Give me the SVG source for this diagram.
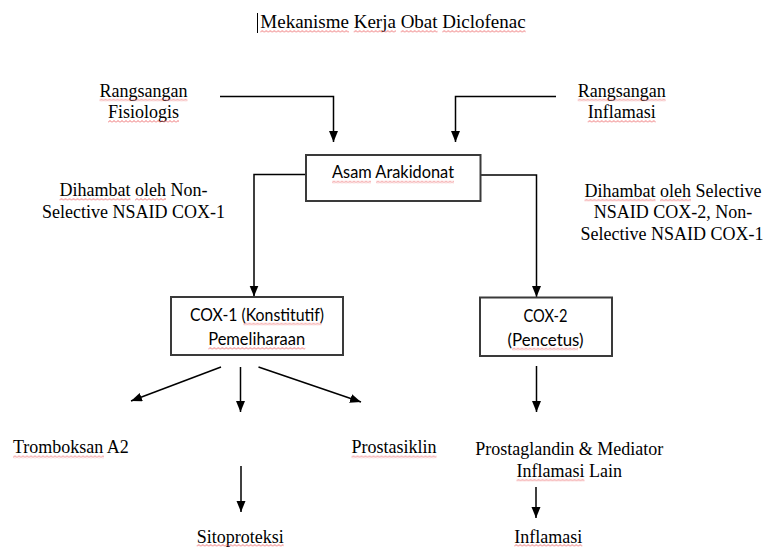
<svg xmlns="http://www.w3.org/2000/svg" width="764" height="547" viewBox="0 0 764 547">
  <style>
    .serif { font-family: "Liberation Serif", "Times New Roman", serif; font-size: 18px; fill: #000; }
    .title { font-size: 19px; }
    .sans { font-family: Lato, "Liberation Sans", sans-serif; font-size: 17px; fill: #000; }
    .box { fill: #fff; stroke: #3a3a3a; stroke-width: 2; }
    .conn { fill: none; stroke: #000; stroke-width: 1.5; }
    .sq { fill: url(#wavy); }
  </style>
  <defs>
    <marker id="arrow" markerUnits="userSpaceOnUse" markerWidth="12" markerHeight="10" refX="11" refY="4.5" orient="auto">
      <path d="M0,0 L11,4.5 L0,9 z" fill="#000"/>
    </marker>
    <pattern id="wavy" patternUnits="userSpaceOnUse" width="4" height="3">
      <path d="M0,2.5 L2,0.5 L4,2.5" fill="none" stroke="#e8474a" stroke-width="0.8"/>
    </pattern>
  </defs>
  <rect width="764" height="547" fill="#fff"/>

  <g id="title">
    <line x1="257.5" y1="13" x2="257.5" y2="33" stroke="#000" stroke-width="1"/>
    <text class="serif title" x="393" y="28" text-anchor="middle">Mekanisme Kerja Obat Diclofenac</text>
  </g>

  <g id="connectors">
    <path class="conn" d="M220,96.5 H333.5 V142" marker-end="url(#arrow)"/>
    <path class="conn" d="M556,96.5 H455.5 V142" marker-end="url(#arrow)"/>
    <path class="conn" d="M306,174.5 H254 V296.5" marker-end="url(#arrow)"/>
    <path class="conn" d="M480.5,175 H536.5 V297" marker-end="url(#arrow)"/>
    <path class="conn" d="M221,367 L131,401" marker-end="url(#arrow)"/>
    <path class="conn" d="M240.5,367 V412" marker-end="url(#arrow)"/>
    <path class="conn" d="M258.5,367 L361,402" marker-end="url(#arrow)"/>
    <path class="conn" d="M536.5,366 V412" marker-end="url(#arrow)"/>
    <path class="conn" d="M241,466 V512" marker-end="url(#arrow)"/>
    <path class="conn" d="M536,487 V518" marker-end="url(#arrow)"/>
  </g>

  <g id="rangsangan-fisiologis">
    <text class="serif" x="143.5" y="96.5" text-anchor="middle">Rangsangan</text>
    <text class="serif" x="143.5" y="118" text-anchor="middle">Fisiologis</text>
  </g>
  <g id="rangsangan-inflamasi">
    <text class="serif" x="621.7" y="96.5" text-anchor="middle">Rangsangan</text>
    <text class="serif" x="621.7" y="118" text-anchor="middle">Inflamasi</text>
  </g>

  <g id="asam-arakidonat">
    <rect class="box" x="306" y="155" width="174.5" height="46"/>
    <text class="sans" x="393" y="177.5" text-anchor="middle" textLength="122" lengthAdjust="spacingAndGlyphs">Asam Arakidonat</text>
  </g>

  <g id="label-cox1-inhibitor">
    <text class="serif" x="133.5" y="196" text-anchor="middle">Dihambat oleh Non-</text>
    <text class="serif" x="133.5" y="217.5" text-anchor="middle">Selective NSAID COX-1</text>
  </g>
  <g id="label-cox2-inhibitor">
    <text class="serif" x="673" y="196.7" text-anchor="middle">Dihambat oleh Selective</text>
    <text class="serif" x="673" y="218" text-anchor="middle">NSAID COX-2, Non-</text>
    <text class="serif" x="672" y="239.5" text-anchor="middle">Selective NSAID COX-1</text>
  </g>

  <g id="cox1">
    <rect class="box" x="171" y="297" width="172" height="58"/>
    <text class="sans" x="257" y="321" text-anchor="middle" textLength="134" lengthAdjust="spacingAndGlyphs">COX-1 (Konstitutif)</text>
    <text class="sans" x="256.7" y="345" text-anchor="middle" textLength="97" lengthAdjust="spacingAndGlyphs">Pemeliharaan</text>
  </g>
  <g id="cox2">
    <rect class="box" x="480" y="297.5" width="132" height="58.5"/>
    <text class="sans" x="545.5" y="322" text-anchor="middle" textLength="44" lengthAdjust="spacingAndGlyphs">COX-2</text>
    <text class="sans" x="545.5" y="345.5" text-anchor="middle" textLength="76" lengthAdjust="spacingAndGlyphs">(Pencetus)</text>
  </g>

  <g id="tromboksan">
    <text class="serif" x="13" y="453.3">Tromboksan A2</text>
  </g>
  <g id="prostasiklin">
    <text class="serif" x="351.5" y="453.3">Prostasiklin</text>
  </g>
  <g id="sitoproteksi">
    <text class="serif" x="240.2" y="543.3" text-anchor="middle">Sitoproteksi</text>
  </g>
  <g id="prostaglandin">
    <text class="serif" x="569.2" y="455" text-anchor="middle">Prostaglandin &amp; Mediator</text>
    <text class="serif" x="569.2" y="476.7" text-anchor="middle">Inflamasi Lain</text>
  </g>
  <g id="inflamasi">
    <text class="serif" x="548.3" y="543" text-anchor="middle">Inflamasi</text>
  </g>

  <g id="spellcheck">
    <rect class="sq" width="88.7" height="3" transform="translate(260.3,30)"/>
    <rect class="sq" width="42.2" height="3" transform="translate(353.7,30)"/>
    <rect class="sq" width="36.9" height="3" transform="translate(400.7,30)"/>
    <rect class="sq" width="83.4" height="3" transform="translate(442.3,30)"/>
    <rect class="sq" width="88" height="3" transform="translate(99.5,98.5)"/>
    <rect class="sq" width="71" height="3" transform="translate(108,120)"/>
    <rect class="sq" width="88" height="3" transform="translate(577.7,98.5)"/>
    <rect class="sq" width="68" height="3" transform="translate(587.7,120)"/>
    <rect class="sq" width="39" height="3" transform="translate(332,180.5)"/>
    <rect class="sq" width="78" height="3" transform="translate(376,180.5)"/>
    <rect class="sq" width="71" height="3" transform="translate(59.5,198)"/>
    <rect class="sq" width="31" height="3" transform="translate(135,198)"/>
    <rect class="sq" width="71" height="3" transform="translate(584.5,198.7)"/>
    <rect class="sq" width="31" height="3" transform="translate(660,198.7)"/>
    <rect class="sq" width="78" height="3" transform="translate(243.5,322.5)"/>
    <rect class="sq" width="97" height="3" transform="translate(208.3,347)"/>
    <rect class="sq" width="66" height="3" transform="translate(512,347.5)"/>
    <rect class="sq" width="91" height="3" transform="translate(13,455.3)"/>
    <rect class="sq" width="85" height="3" transform="translate(351.5,455.3)"/>
    <rect class="sq" width="68" height="3" transform="translate(516.5,478.7)"/>
    <rect class="sq" width="87" height="3" transform="translate(196.7,544)"/>
    <rect class="sq" width="68" height="3" transform="translate(514.3,544)"/>
  </g>
</svg>
